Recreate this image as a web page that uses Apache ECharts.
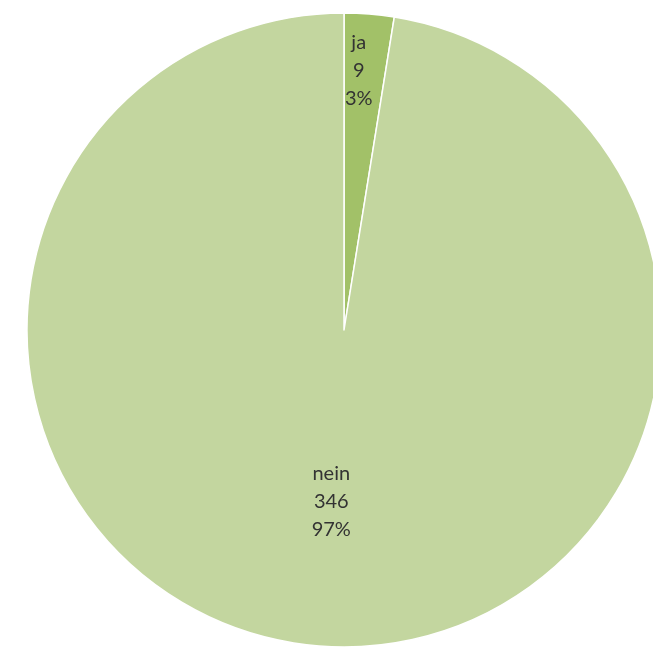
<!DOCTYPE html>
<html>
<head>
<meta charset="utf-8">
<script src="https://cdn.jsdelivr.net/npm/echarts@6/dist/echarts.min.js"></script>
<style>html,body{margin:0;padding:0;background:#fff;}#c{width:653px;height:649px;}</style>
</head>
<body>
<div id="c"></div>
<script>
var categories = ['ja', 'nein'];
var values = [9, 346];
var colors = ['#a2c168', '#c3d69f'];

var CENTER = [344, 330];
var R = 317;

function labelStyle(extra) {
  return Object.assign({
    show: true,
    position: 'inner',
    formatter: '{b}\n{c}\n{d}%',
    color: '#333333',
    fontFamily: 'Lato',
    fontSize: 20,
    lineHeight: 28
  }, extra || {});
}

function labelSeries(idx, innerR, offset) {
  return {
    type: 'pie',
    center: CENTER,
    radius: [innerR, R],
    startAngle: 90,
    clockwise: true,
    percentPrecision: 0,
    silent: true,
    z: 3,
    itemStyle: { color: 'rgba(0,0,0,0)', borderWidth: 0 },
    labelLine: { show: false },
    data: categories.map(function (c, i) {
      return {
        name: c, value: values[i],
        itemStyle: { color: 'rgba(0,0,0,0)' },
        label: labelStyle({ show: i === idx, offset: offset })
      };
    })
  };
}

var chart = echarts.init(document.getElementById('c'), null, { renderer: 'canvas' });
chart.setOption({
  animation: false,
  series: [
    {
      type: 'pie',
      center: CENTER,
      radius: [0, R],
      startAngle: 90,
      clockwise: true,
      silent: true,
      itemStyle: { borderColor: '#ffffff', borderWidth: 1.5 },
      label: { show: false },
      labelLine: { show: false },
      data: categories.map(function (c, i) {
        return { name: c, value: values[i], itemStyle: { color: colors[i] } };
      })
    },
    labelSeries(0, 198, [-6, 0]),
    labelSeries(1, 22, [1, 0])
  ]
});
</script>
</body>
</html>
